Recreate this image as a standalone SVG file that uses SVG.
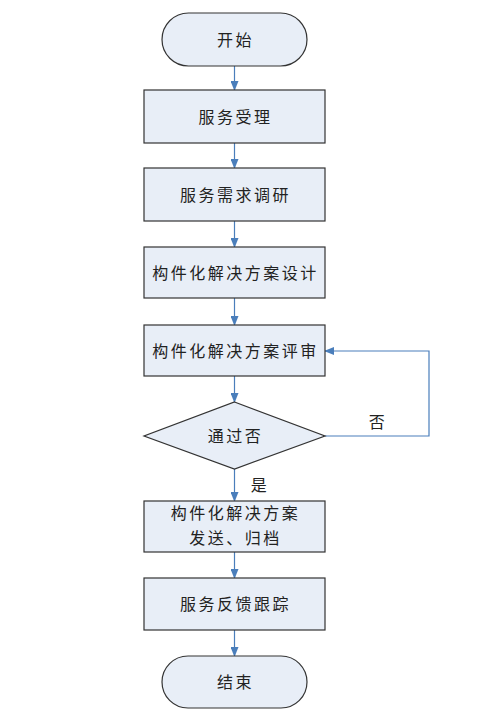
<svg xmlns="http://www.w3.org/2000/svg" width="501" height="725" viewBox="0 0 501 725">
<defs>
<marker id="ah" markerWidth="10" markerHeight="8" refX="9" refY="4" orient="auto" markerUnits="userSpaceOnUse">
<path d="M0,0 L10,4 L0,8 z" fill="#4A7EBB"/>
</marker>
<style>
.n{fill:#E8EEF7;stroke:#333;stroke-width:1.2}
.t{font-family:"Liberation Serif","Noto Sans CJK SC",serif;font-size:16px;fill:#222;text-anchor:middle;dominant-baseline:central;letter-spacing:2.5px}
.c{fill:none;stroke:#4A7EBB;stroke-width:1.2;marker-end:url(#ah)}
</style>
</defs>
<rect width="501" height="725" fill="#fff"/>
<g id="connectors">
<path class="c" d="M234.5,66 V90"/>
<path class="c" d="M234.5,143 V168"/>
<path class="c" d="M234.5,221 V247"/>
<path class="c" d="M234.5,298 V325"/>
<path class="c" d="M234.5,376 V402"/>
<path class="c" d="M234.5,469 V501"/>
<path class="c" d="M234.5,552 V578"/>
<path class="c" d="M234.5,630 V656"/>
<path class="c" d="M325,436 H429 V351 H325"/>
<text class="t" x="378" y="422">否</text>
<text class="t" x="260" y="485">是</text>
</g>
<g id="start"><rect class="n" x="162" y="13" width="145" height="53" rx="26.5"/><text class="t" x="235.5" y="40">开始</text></g>
<g id="n1"><rect class="n" x="144" y="90" width="181" height="53"/><text class="t" x="235.5" y="117">服务受理</text></g>
<g id="n2"><rect class="n" x="144" y="168" width="181" height="53"/><text class="t" x="235.5" y="195">服务需求调研</text></g>
<g id="n3"><rect class="n" x="144" y="247" width="181" height="51"/><text class="t" x="235.5" y="273">构件化解决方案设计</text></g>
<g id="n4"><rect class="n" x="144" y="325" width="181" height="51"/><text class="t" x="235.5" y="351">构件化解决方案评审</text></g>
<g id="d1"><polygon class="n" points="234.5,402 325,436 234.5,469 144,436"/><text class="t" x="235.5" y="436">通过否</text></g>
<g id="n5"><rect class="n" x="144" y="501" width="181" height="51"/><text class="t" x="235.5" y="513">构件化解决方案</text><text class="t" x="235.5" y="538">发送、归档</text></g>
<g id="n6"><rect class="n" x="144" y="578" width="181" height="52"/><text class="t" x="235.5" y="604">服务反馈跟踪</text></g>
<g id="end"><rect class="n" x="162" y="656" width="145" height="52" rx="26"/><text class="t" x="235.5" y="682">结束</text></g>
</svg>
